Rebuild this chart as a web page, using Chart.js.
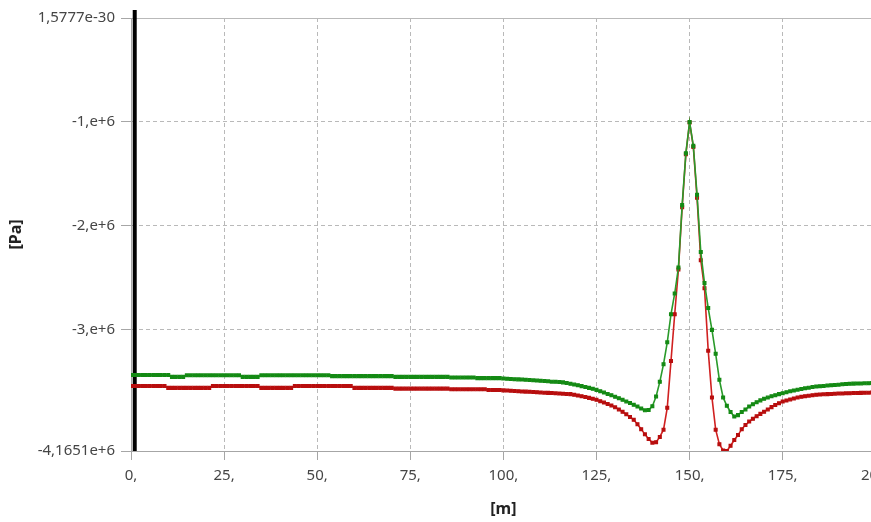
<!DOCTYPE html>
<html>
<head>
<meta charset="utf-8">
<title>Pressure along path</title>
<script src="https://cdn.jsdelivr.net/npm/chart.js@4.4.1/dist/chart.umd.min.js"></script>
<style>
    html, body { margin: 0; padding: 0; background: #fff; overflow: hidden; }
    #chart { display: block; }
</style>
</head>
<body>
<canvas id="chart" width="881" height="522"></canvas>
<script>
// Data (distance in m, pressure in MPa)
const distance = [
    0, 1, 2, 3, 4, 5, 6, 7, 8, 9, 10, 11, 12, 13, 14, 15, 16, 17, 18, 19,
    20, 21, 22, 23, 24, 25, 26, 27, 28, 29, 30, 31, 32, 33, 34, 35, 36, 37, 38, 39,
    40, 41, 42, 43, 44, 45, 46, 47, 48, 49, 50, 51, 52, 53, 54, 55, 56, 57, 58, 59,
    60, 61, 62, 63, 64, 65, 66, 67, 68, 69, 70, 71, 72, 73, 74, 75, 76, 77, 78, 79,
    80, 81, 82, 83, 84, 85, 86, 87, 88, 89, 90, 91, 92, 93, 94, 95, 96, 97, 98, 99,
    100, 101, 102, 103, 104, 105, 106, 107, 108, 109, 110, 111, 112, 113, 114, 115, 116, 117, 118, 119,
    120, 121, 122, 123, 124, 125, 126, 127, 128, 129, 130, 131, 132, 133, 134, 135, 136, 137, 138, 139,
    140, 141, 142, 143, 144, 145, 146, 147, 148, 149, 150, 151, 152, 153, 154, 155, 156, 157, 158, 159,
    160, 161, 162, 163, 164, 165, 166, 167, 168, 169, 170, 171, 172, 173, 174, 175, 176, 177, 178, 179,
    180, 181, 182, 183, 184, 185, 186, 187, 188, 189, 190, 191, 192, 193, 194, 195, 196, 197, 198, 199,
    200
];

const greenMPa = [
    // 0 - 19
    -3.435, -3.435, -3.435, -3.435, -3.435, -3.435, -3.435, -3.435, -3.435, -3.435,
    -3.435, -3.452, -3.452, -3.452, -3.452, -3.437, -3.437, -3.437, -3.437, -3.437,
    // 20 - 39
    -3.437, -3.437, -3.437, -3.437, -3.437, -3.437, -3.437, -3.437, -3.437, -3.437,
    -3.452, -3.452, -3.452, -3.452, -3.452, -3.437, -3.437, -3.437, -3.437, -3.437,
    // 40 - 59
    -3.437, -3.437, -3.437, -3.437, -3.437, -3.437, -3.437, -3.437, -3.437, -3.437,
    -3.437, -3.437, -3.437, -3.437, -3.445, -3.445, -3.445, -3.445, -3.445, -3.445,
    // 60 - 79
    -3.445, -3.445, -3.445, -3.445, -3.445, -3.445, -3.445, -3.445, -3.445, -3.445,
    -3.445, -3.452, -3.452, -3.452, -3.452, -3.452, -3.452, -3.452, -3.452, -3.452,
    // 80 - 99
    -3.452, -3.452, -3.452, -3.452, -3.452, -3.452, -3.458, -3.458, -3.458, -3.458,
    -3.458, -3.458, -3.458, -3.464, -3.464, -3.464, -3.464, -3.464, -3.464, -3.464,
    // 100 - 119
    -3.468, -3.470, -3.472, -3.474, -3.476, -3.478, -3.480, -3.482, -3.485, -3.488,
    -3.490, -3.492, -3.495, -3.498, -3.500, -3.502, -3.505, -3.512, -3.519, -3.526,
    // 120 - 139
    -3.533, -3.541, -3.549, -3.558, -3.567, -3.577, -3.590, -3.603, -3.616, -3.629,
    -3.643, -3.658, -3.672, -3.688, -3.704, -3.720, -3.737, -3.757, -3.774, -3.770,
    // 140 - 159
    -3.735, -3.640, -3.500, -3.330, -3.120, -2.850, -2.650, -2.400, -1.800, -1.300,
    -1.000, -1.230, -1.700, -2.250, -2.550, -2.790, -3.000, -3.230, -3.480, -3.650,
    // 160 - 179
    -3.730, -3.790, -3.834, -3.820, -3.790, -3.765, -3.737, -3.715, -3.696, -3.678,
    -3.663, -3.651, -3.638, -3.628, -3.618, -3.609, -3.600, -3.591, -3.583, -3.575,
    // 180 - 200
    -3.568, -3.562, -3.556, -3.550, -3.545, -3.542, -3.539, -3.536, -3.533, -3.530,
    -3.527, -3.524, -3.521, -3.519, -3.517, -3.516, -3.515, -3.514, -3.513, -3.512,
    -3.511
];

const redMPa = [
    // 0 - 19
    -3.540, -3.540, -3.540, -3.540, -3.540, -3.540, -3.540, -3.540, -3.540, -3.540,
    -3.558, -3.558, -3.558, -3.558, -3.558, -3.558, -3.558, -3.558, -3.558, -3.558,
    // 20 - 39
    -3.558, -3.558, -3.540, -3.540, -3.540, -3.540, -3.540, -3.540, -3.540, -3.540,
    -3.540, -3.540, -3.540, -3.540, -3.540, -3.558, -3.558, -3.558, -3.558, -3.558,
    // 40 - 59
    -3.558, -3.558, -3.558, -3.558, -3.540, -3.540, -3.540, -3.540, -3.540, -3.540,
    -3.540, -3.540, -3.540, -3.540, -3.540, -3.540, -3.540, -3.540, -3.540, -3.540,
    // 60 - 79
    -3.558, -3.558, -3.558, -3.558, -3.558, -3.558, -3.558, -3.558, -3.558, -3.558,
    -3.558, -3.565, -3.565, -3.565, -3.565, -3.565, -3.565, -3.565, -3.565, -3.565,
    // 80 - 99
    -3.565, -3.565, -3.565, -3.565, -3.565, -3.565, -3.572, -3.572, -3.572, -3.572,
    -3.572, -3.572, -3.572, -3.572, -3.572, -3.572, -3.578, -3.578, -3.578, -3.578,
    // 100 - 119
    -3.582, -3.584, -3.586, -3.588, -3.590, -3.592, -3.594, -3.596, -3.598, -3.600,
    -3.602, -3.604, -3.606, -3.608, -3.610, -3.612, -3.614, -3.616, -3.618, -3.624,
    // 120 - 139
    -3.631, -3.638, -3.646, -3.654, -3.663, -3.673, -3.686, -3.699, -3.712, -3.727,
    -3.745, -3.765, -3.788, -3.812, -3.838, -3.865, -3.908, -3.955, -4.005, -4.050,
    // 140 - 159
    -4.085, -4.080, -4.030, -3.960, -3.750, -3.300, -2.850, -2.420, -1.820, -1.310,
    -1.005, -1.240, -1.730, -2.330, -2.600, -3.200, -3.650, -3.960, -4.100, -4.160,
    // 160 - 179
    -4.1651, -4.115, -4.060, -4.012, -3.955, -3.915, -3.882, -3.855, -3.830, -3.808,
    -3.788, -3.765, -3.743, -3.723, -3.705, -3.689, -3.679, -3.669, -3.660, -3.651,
    // 180 - 200
    -3.644, -3.638, -3.633, -3.629, -3.625, -3.622, -3.620, -3.618, -3.616, -3.614,
    -3.612, -3.611, -3.610, -3.609, -3.608, -3.607, -3.606, -3.605, -3.604, -3.603,
    -3.602
];

// Axis ticks
const xTickValues = [0, 25, 50, 75, 100, 125, 150, 175, 200];
const xTickLabels = ['0,', '25,', '50,', '75,', '100,', '125,', '150,', '175,', '200,'];
const yTickValues = [-4.1651e6, -3e6, -2e6, -1e6, 1.5777e-30];
const yTickLabels = ['-4,1651e+6', '-3,e+6', '-2,e+6', '-1,e+6', '1,5777e-30'];
const yMin = -4.1651e6;
const yMax = 1.5777e-30;

// Probe cursor (black vertical line near the start of the path)
const cursorX = 1.0;
const cursorTopPa = 0.077e6;

const toPoints = (vals) => vals.map((v, i) => ({ x: distance[i], y: v * 1e6 }));

const gridColor = '#b9b9b9';
const axisColor = '#a6a6a6';
const tickFont = { family: '"Noto Sans", "Open Sans", sans-serif', size: 15 };
const titleFont = { family: '"Noto Sans", "Open Sans", sans-serif', size: 16, weight: 'bold' };

const ctx = document.getElementById('chart').getContext('2d');
new Chart(ctx, {
    type: 'line',
    data: {
        datasets: [
            {
                label: 'green',
                data: toPoints(greenMPa),
                borderColor: '#2a9a2a',
                backgroundColor: '#148a14',
                pointBorderColor: '#148a14',
                borderWidth: 1.6,
                pointStyle: 'rect',
                pointRadius: 2,
                pointBorderWidth: 1.2,
                tension: 0
            },
            {
                label: 'red',
                data: toPoints(redMPa),
                borderColor: '#d02020',
                backgroundColor: '#b80e0e',
                pointBorderColor: '#b80e0e',
                borderWidth: 1.6,
                pointStyle: 'rect',
                pointRadius: 2,
                pointBorderWidth: 1.2,
                tension: 0
            },
            {
                label: 'cursor',
                data: [{ x: cursorX, y: yMin }, { x: cursorX, y: cursorTopPa }],
                borderColor: '#000',
                borderWidth: 4,
                pointRadius: 0,
                clip: false
            }
        ]
    },
    options: {
        responsive: false,
        animation: false,
        events: [],
        layout: { padding: { top: 18, left: 0, right: 0, bottom: 0 } },
        plugins: {
            legend: { display: false },
            tooltip: { enabled: false }
        },
        scales: {
            x: {
                type: 'linear',
                min: 0,
                max: 200,
                afterBuildTicks: (scale) => {
                    scale.ticks = xTickValues.map(v => ({ value: v }));
                },
                afterFit: (scale) => {
                    scale.height = 71;
                    scale.paddingLeft = 0;
                    scale.paddingRight = 0;
                },
                ticks: {
                    autoSkip: false,
                    maxRotation: 0,
                    padding: 7,
                    color: '#454545',
                    font: tickFont,
                    callback: (v, i) => xTickLabels[i]
                },
                grid: {
                    color: gridColor,
                    tickLength: 9,
                    tickColor: axisColor
                },
                border: {
                    color: axisColor,
                    dash: (c) => (c.tick && c.tick.value === 0) ? [] : [4, 3]
                },
                title: {
                    display: true,
                    text: '[m]',
                    color: '#222',
                    font: titleFont,
                    padding: { top: 0, bottom: 3 }
                }
            },
            y: {
                type: 'linear',
                min: yMin,
                max: yMax,
                afterBuildTicks: (scale) => {
                    scale.ticks = yTickValues.map(v => ({ value: v }));
                },
                afterFit: (scale) => {
                    scale.width = 131;
                    scale.paddingTop = 0;
                    scale.paddingBottom = 0;
                },
                ticks: {
                    autoSkip: false,
                    padding: 6,
                    color: '#454545',
                    font: tickFont,
                    callback: (v, i) => yTickLabels[i]
                },
                grid: {
                    color: gridColor,
                    tickLength: 10,
                    tickColor: axisColor
                },
                border: {
                    color: axisColor,
                    dash: (c) => (c.tick && (c.tick.value === yMax || c.tick.value === yMin)) ? [] : [4, 3]
                },
                title: {
                    display: true,
                    text: '[Pa]',
                    color: '#222',
                    font: titleFont,
                    padding: { top: 7, bottom: 0 }
                }
            }
        }
    }
});
</script>
</body>
</html>
